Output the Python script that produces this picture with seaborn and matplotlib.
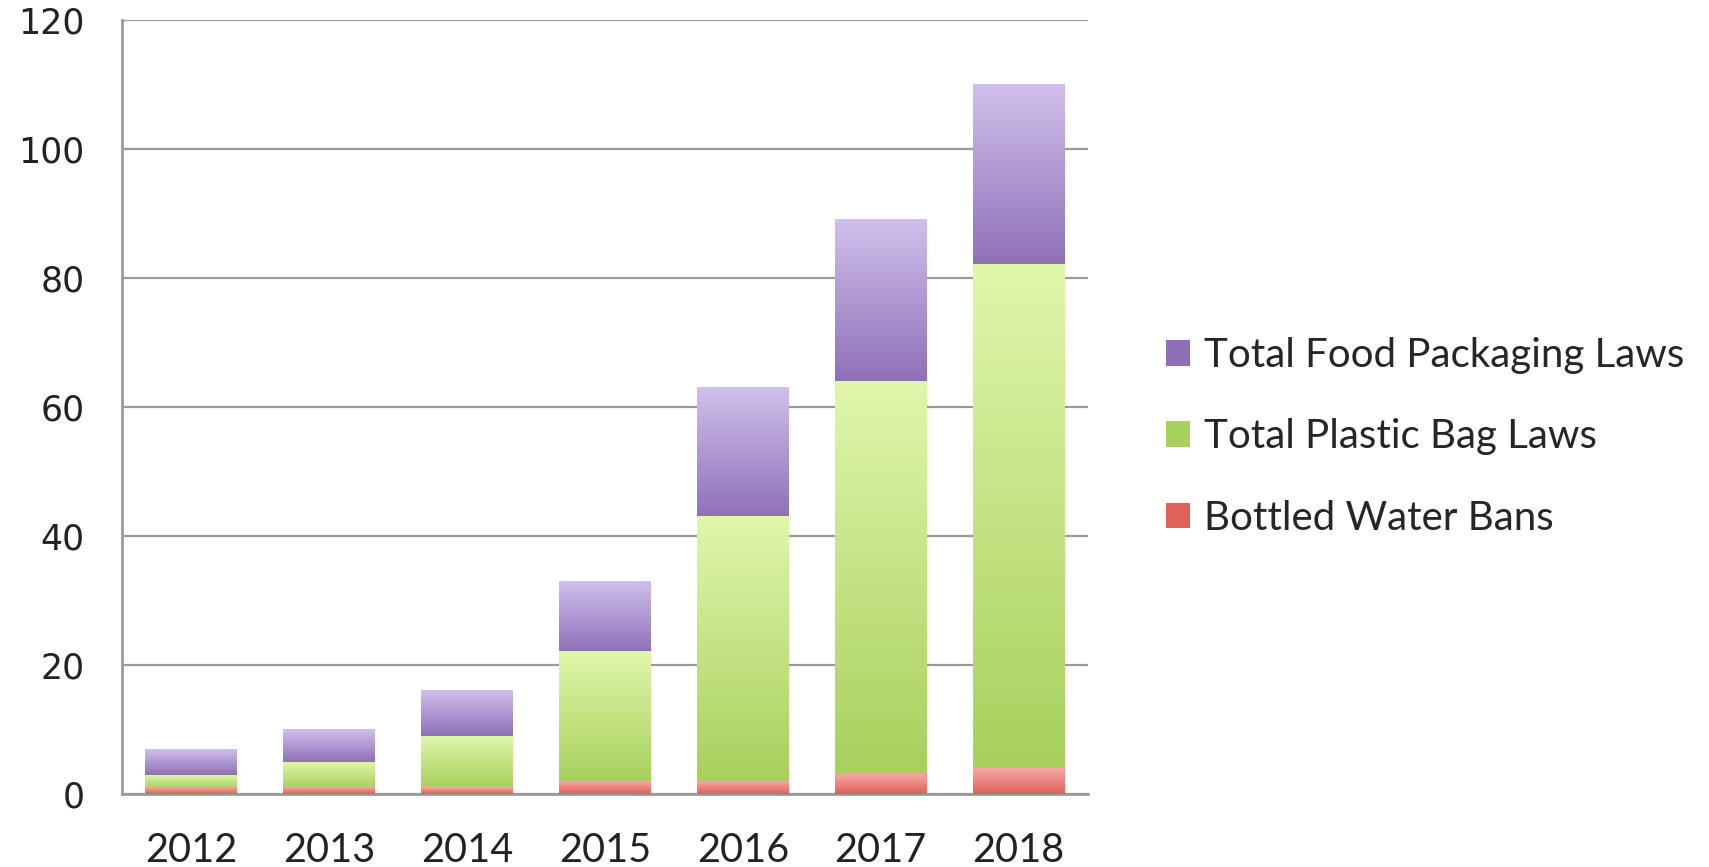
import numpy as np
import pandas as pd
import matplotlib
matplotlib.use("Agg")
import matplotlib.pyplot as plt
from matplotlib.colors import LinearSegmentedColormap
from matplotlib.patches import Patch
import seaborn as sns

years = ["2012", "2013", "2014", "2015", "2016", "2017", "2018"]
bottled_water = [1, 1, 1, 2, 2, 3, 4]
plastic_bag = [2, 4, 8, 20, 41, 61, 78]
food_packaging = [4, 5, 7, 11, 20, 25, 28]
series_names = ["Bottled Water Bans", "Total Plastic Bag Laws", "Total Food Packaging Laws"]
y_ticks = [0, 20, 40, 60, 80, 100, 120]

# gradient colours (top light, bottom dark)
grad_colors = {
    "Bottled Water Bans": ("#f6a8a4", "#e0605a"),
    "Total Plastic Bag Laws": ("#e0f6ac", "#a8d05c"),
    "Total Food Packaging Laws": ("#d0c0ec", "#8f70b8"),
}

sns.set_style("white")

series = [bottled_water, plastic_bag, food_packaging]
cum = np.cumsum(np.array(series, dtype=float), axis=0)
lower = np.vstack([np.zeros(len(years)), cum[:-1]])

fig = plt.figure(figsize=(17.09, 8.67), dpi=100)
ax = fig.add_axes([0.0714, 0.084, 0.565, 0.893])

# draw cumulative totals, largest first so smaller overlay
for i in reversed(range(len(series))):
    name = series_names[i]
    df = pd.DataFrame({"year": years, "value": cum[i]})
    n_before = len(ax.patches)
    sns.barplot(data=df, x="year", y="value", ax=ax, color=grad_colors[name][1],
                width=0.66, errorbar=None, linewidth=0, zorder=3)
    patches = ax.patches[n_before:]
    cmap = LinearSegmentedColormap.from_list(name, [grad_colors[name][0], grad_colors[name][1]])
    grad = np.linspace(0, 1, 256).reshape(-1, 1)
    for j, p in enumerate(patches):
        x0 = p.get_x()
        w = p.get_width()
        ax.imshow(grad, cmap=cmap, origin="upper", aspect="auto",
                  extent=[x0, x0 + w, lower[i][j], cum[i][j]], zorder=4 + (2 - i) * 0.01,
                  interpolation="bilinear")

ax.set_xlim(-0.5, len(years) - 0.5)
ax.set_ylim(0, 120)
ax.set_yticks(y_ticks)
ax.set_yticklabels([str(t) for t in y_ticks])
for lbl in ax.get_yticklabels():
    lbl.set_fontfamily("DejaVu Sans")
    lbl.set_fontsize(25)
    lbl.set_color("#222222")
ax.set_xticks(range(len(years)))
ax.set_xticklabels(years)
for lbl in ax.get_xticklabels():
    lbl.set_fontfamily("Lato")
    lbl.set_fontsize(28.5)
    lbl.set_color("#222222")
ax.tick_params(axis="x", length=0, pad=27)
ax.tick_params(axis="y", length=0, pad=27)
ax.set_xlabel("")
ax.set_ylabel("")

ax.yaxis.grid(True, color="#9a9a9a", linewidth=1.6, zorder=1)
ax.set_axisbelow(True)
for s in ["top", "right"]:
    ax.spines[s].set_visible(False)
for s in ["left", "bottom"]:
    ax.spines[s].set_color("#9a9a9a")
    ax.spines[s].set_linewidth(2.0)

handles = [Patch(facecolor=grad_colors[n][1], edgecolor="none") for n in reversed(series_names)]
leg = fig.legend(handles, list(reversed(series_names)), loc="center left",
                 bbox_to_anchor=(0.682, 0.496), frameon=False,
                 prop={"family": "Lato", "size": 29}, handlelength=0.6, handleheight=0.6,
                 handletextpad=0.35, labelspacing=1.1, borderaxespad=0, borderpad=0)

fig.savefig("out.png", dpi=100)
